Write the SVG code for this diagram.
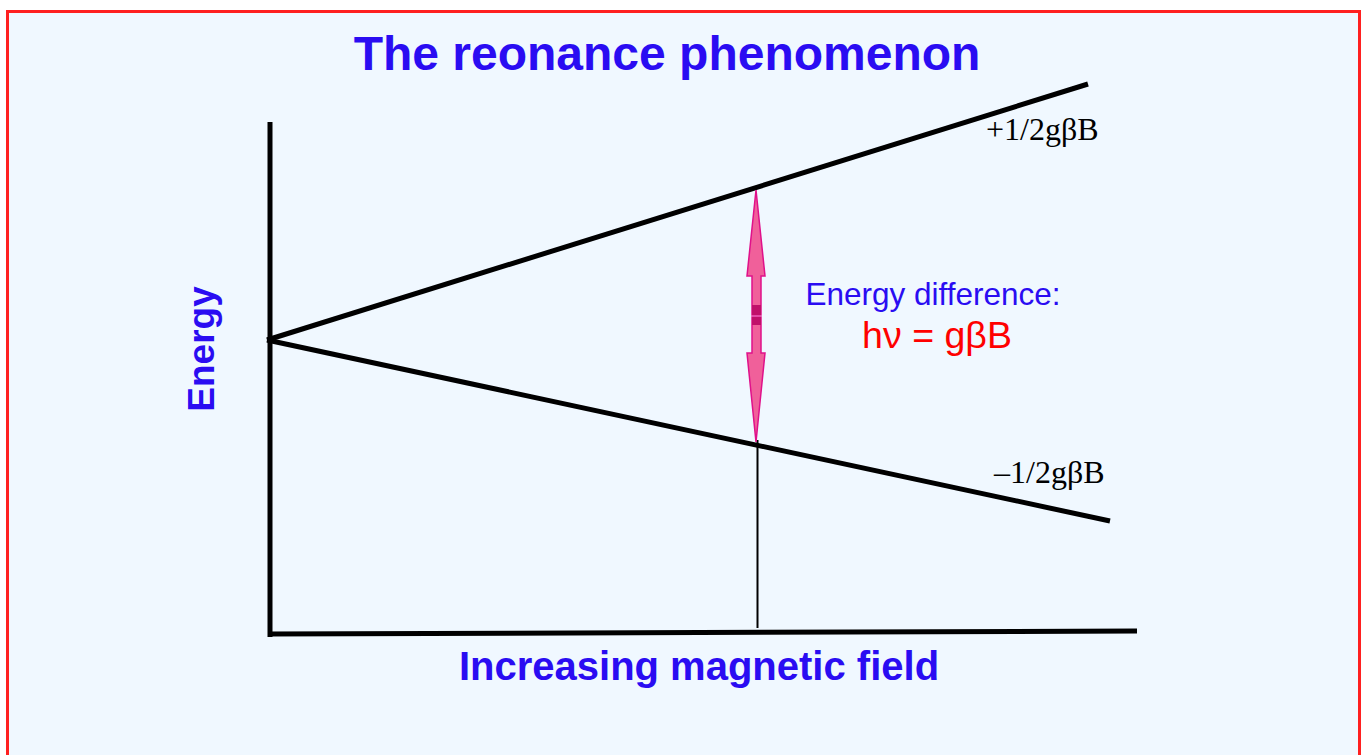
<svg xmlns="http://www.w3.org/2000/svg" width="1365" height="755" viewBox="0 0 1365 755">
<style>
.bt{font-family:"Liberation Sans",Arial,sans-serif;font-weight:bold;fill:#2a0cf2}
.ser{font-family:"Liberation Serif","Times New Roman",serif;font-size:32px;fill:#000}
.ln{stroke:#000;stroke-width:5;fill:none;stroke-linecap:butt}
.arr{fill:#f0609a;stroke:#e0108a;stroke-width:1.5}
</style>
<rect x="0" y="0" width="1365" height="755" fill="#ffffff"/>
<rect x="7.5" y="11.5" width="1352" height="760" fill="#f0f8ff" stroke="#ff2020" stroke-width="3"/>
<text class="bt" x="667" y="70" font-size="48" text-anchor="middle">The reonance phenomenon</text>
<g id="axes">
<line class="ln" x1="270" y1="122" x2="270" y2="637"/>
<line class="ln" x1="268" y1="634" x2="1137" y2="631"/>
</g>
<g id="connectors">
<line class="ln" x1="267" y1="340" x2="1088" y2="84"/>
<line class="ln" x1="267" y1="340" x2="1110" y2="521"/>
<line x1="757.5" y1="440" x2="757.5" y2="628" stroke="#000" stroke-width="2"/>
</g>
<g id="arrow">
<polygon class="arr" points="756,190 765,276 761,276 761,315 752,315 752,276 747,276"/>
<rect x="752" y="305" width="9" height="10" fill="#c0106a"/>
<polygon class="arr" points="756,442 765,353 761,353 761,317 752,317 752,353 747,353"/>
<rect x="752" y="317" width="9" height="8" fill="#c0106a"/>
</g>
<g id="labels">
<text class="bt" font-size="37" text-anchor="middle" transform="translate(214,349) rotate(-90)">Energy</text>
<text class="bt" x="699" y="680" font-size="40" text-anchor="middle">Increasing magnetic field</text>
<text x="933" y="305" font-family="Liberation Sans,Arial,sans-serif" font-size="31.5" fill="#2a0cf2" text-anchor="middle">Energy difference:</text>
<text x="937" y="348" font-family="Liberation Sans,Arial,sans-serif" font-size="37.5" fill="#ff0000" text-anchor="middle">hν = gβB</text>
<text class="ser" x="986" y="140">+1/2gβB</text>
<text class="ser" x="994" y="483">–1/2gβB</text>
</g>
</svg>
